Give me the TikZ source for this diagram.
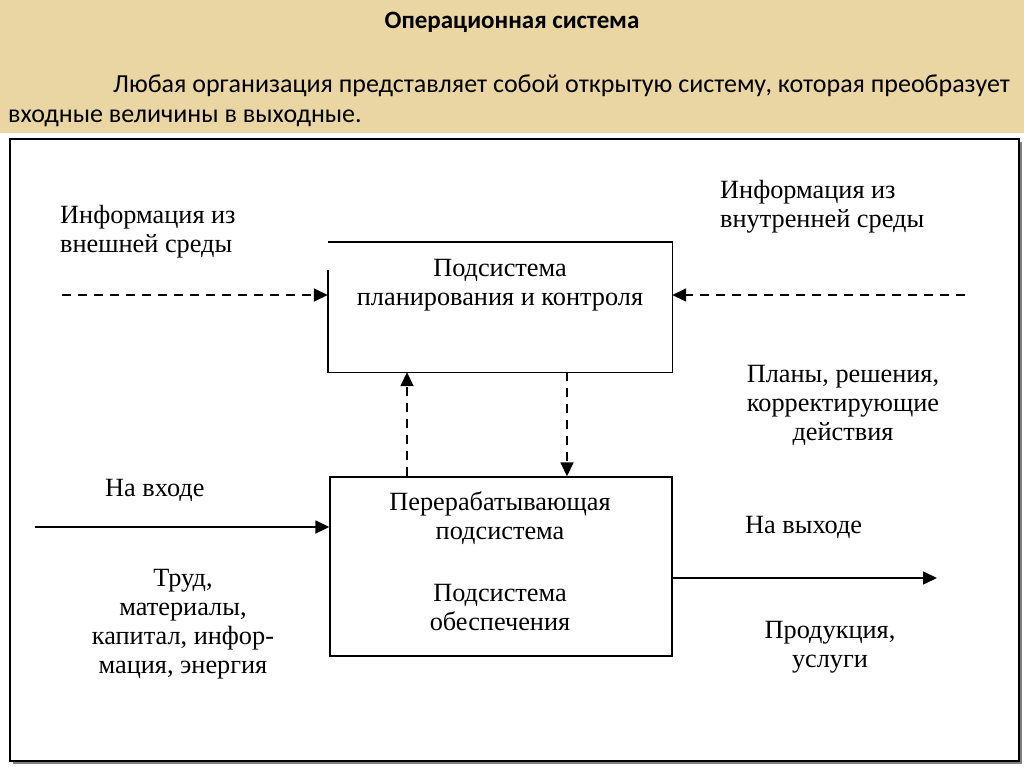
\documentclass[tikz,border=0pt]{standalone}
\usepackage{fontspec}
\setmainfont{Liberation Serif}
\newfontfamily\slidefont{Carlito}
\usetikzlibrary{arrows.meta,calc}
\definecolor{parchment}{RGB}{234,214,162}

\begin{document}
\begin{tikzpicture}[x=1pt,y=-1pt,
	txt/.style={font=\fontsize{26.3}{29}\selectfont,inner sep=0pt,align=center},
	blok/.style={minimum width=#1,inner sep=0pt},
	info/.style={dashed,dash pattern=on 9pt off 7pt,line width=1.6pt,-{Triangle[length=14pt,width=13pt]}},
	flow/.style={line width=1.6pt,-{Triangle[length=14pt,width=13pt]}}]
					%\draw[help lines] (0,0) grid[step=50] (1024,767);
					\useasboundingbox (0,0) rectangle (1024,767);
					%BACKGROUND
					\fill[parchment] (0,0) rectangle (1024,133);
					\fill[white] (0,133) rectangle (1024,767);
					\draw[gray,line width=2pt] (13,763) -- (1021,763) -- (1021,142);
					\draw[line width=1.5pt] (10,139) rectangle (1019,761);
					
					%HEADER
					\node[font=\slidefont\bfseries\fontsize{25}{29}\selectfont] (title) at (512,22) {Операционная система};
					\node[font=\slidefont\fontsize{26}{30}\selectfont,align=left,anchor=north west,inner sep=0pt] (para) at (8,75)
						{\hspace*{105pt}Любая организация представляет собой открытую систему, которая преобразует\\входные величины в выходные.};
					
					%BOXES
					\node[blok=344pt,minimum height=130pt] (plan) at (500,307) {};
					\draw[line width=1.4pt] ($(plan.north west)+(0,28)$) -- (plan.south west) -- (plan.south east) -- (plan.north east) -- (plan.north west);
					\node[blok=342pt,minimum height=179pt,draw,line width=1.4pt] (proc) at (501,566.5) {};
					
					\node[txt] (plantxt) at (500,285) {Подсистема\\планирования и контроля};
					\node[txt] (proctxt) at (500,518) {Перерабатывающая\\подсистема};
					\node[txt] (supptxt) at (500,608) {Подсистема\\обеспечения};
					
					%LABELS
					\node[txt,align=left,anchor=west] (ext) at (60,232) {Информация из\\внешней среды};
					\node[txt,align=left,anchor=west] (int) at (720,207) {Информация из\\внутренней среды};
					\node[txt] (plans) at (843,405) {Планы, решения,\\корректирующие\\действия};
					\node[txt,anchor=west] (inlbl) at (105,490) {На входе};
					\node[txt,anchor=west] (outlbl) at (745,527) {На выходе};
					\node[txt] (res) at (183,624) {Труд,\\материалы,\\капитал, инфор-\\мация, энергия};
					\node[txt] (prod) at (830,647) {Продукция,\\услуги};
					
					%ARROWS
					\coordinate (extL) at (62,295);
					\coordinate (intR) at (965,295);
					\coordinate (up) at (407,0);
					\coordinate (down) at (567,0);
					\coordinate (inL) at (35,527);
					\coordinate (outR) at (937,578);
					\draw[info] (extL) -- (extL -| plan.west);
					\draw[info] (intR) -- (intR -| plan.east);
					\draw[info] (up |- proc.north) -- (up |- plan.south);
					\draw[info] (down |- plan.south) -- (down |- proc.north);
					\draw[flow] (inL) -- (inL -| proc.west);
					\draw[flow] (outR -| proc.east) -- (outR);
					
				  \end{tikzpicture}
\end{document}
